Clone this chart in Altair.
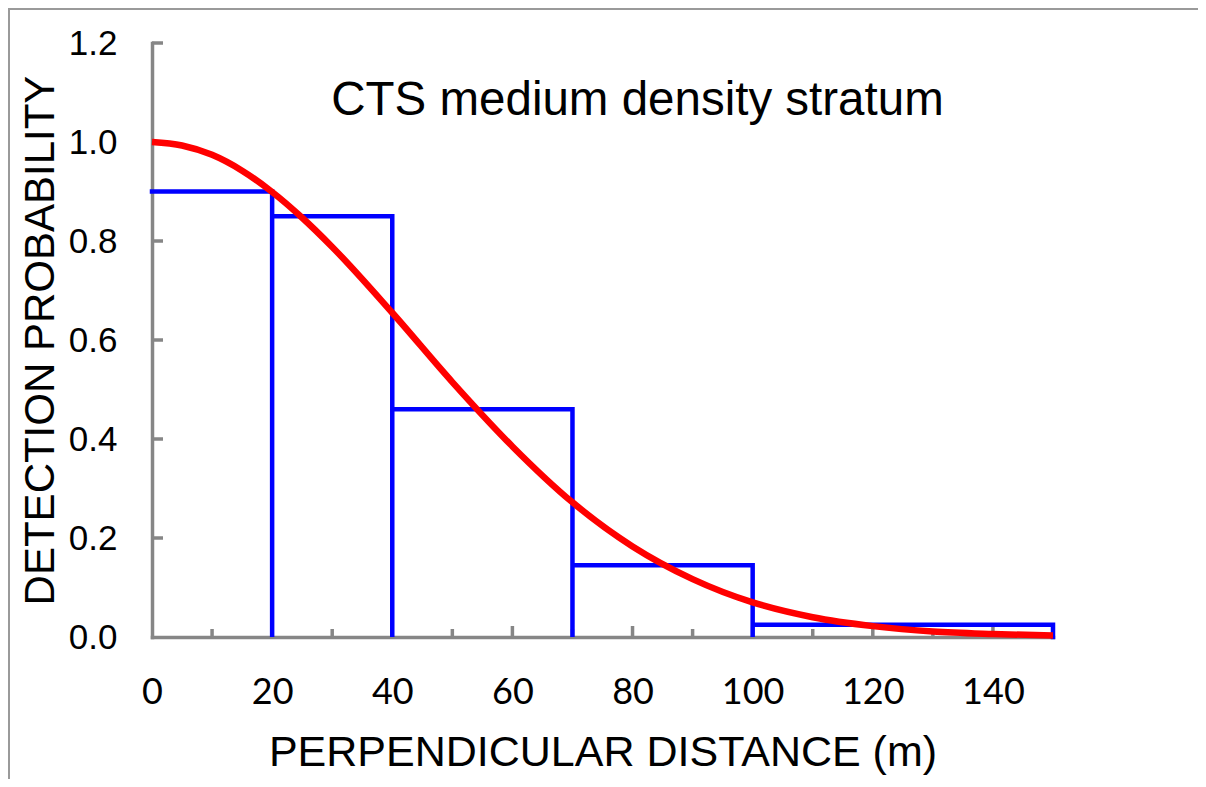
import altair as alt
import pandas as pd

# ---- data ----
bin_edges = [0, 20, 40, 70, 100, 150]
bin_heights = [0.90, 0.85, 0.46, 0.145, 0.025]

curve_x = [0, 5, 10, 15, 20, 25, 30, 40, 50, 60, 70, 80, 90, 100, 110, 120, 130, 140, 150]
curve_y = [1.0, 0.993, 0.974, 0.942, 0.899, 0.847, 0.788, 0.655, 0.515, 0.385, 0.272,
           0.183, 0.117, 0.070, 0.040, 0.022, 0.011, 0.006, 0.003]

x_labels = [0, 20, 40, 60, 80, 100, 120, 140]
x_major_ticks = [20, 40, 60, 80, 100, 120, 140]
x_minor_ticks = [10, 30, 50, 70, 90, 110, 130]
y_labels = [0.0, 0.2, 0.4, 0.6, 0.8, 1.0, 1.2]
y_ticks = [0.2, 0.4, 0.6, 0.8, 1.0, 1.2]

title_text = "CTS medium density stratum"
x_title = "PERPENDICULAR DISTANCE (m)"
y_title = "DETECTION PROBABILITY"

# ---- tables ----
hx, hy = [bin_edges[0]], [bin_heights[0]]
for i, h in enumerate(bin_heights):
    if i > 0:
        hx.append(bin_edges[i]); hy.append(h)
    hx.append(bin_edges[i + 1]); hy.append(h)
    hx.append(bin_edges[i + 1]); hy.append(0.0)
hist_df = pd.DataFrame({"x": hx, "y": hy, "o": list(range(len(hx)))})
curve_df = pd.DataFrame({"x": curve_x, "y": curve_y})

W, H = 901, 594
PAD = {"left": 144, "top": 35, "right": 145, "bottom": 142}
AXIS_GREY = "#868686"

xscale = alt.Scale(domain=[0, 150], nice=False, zero=False)
yscale = alt.Scale(domain=[0, 1.2], nice=False, zero=False)

xaxis = alt.Axis(
    values=x_labels, format="d", title=x_title,
    titleFont="Liberation Sans", titleFontSize=43, titleFontWeight="normal",
    titleColor="black", titleBaseline="alphabetic", titleAlign="center",
    titleX=W / 2, titleY=128,
    labelFont="Lato", labelFontSize=36, labelColor="black", labelPadding=38,
    labelFlush=False, labelOverlap=False,
    ticks=False, tickSize=0, grid=False,
    domainColor=AXIS_GREY, domainWidth=3.5, domainCap="square",
)
yaxis = alt.Axis(
    values=y_labels, format=".1f", title=y_title,
    titleFont="Liberation Sans", titleFontSize=42, titleFontWeight="normal",
    titleColor="black", titleBaseline="alphabetic", titleAlign="center",
    titleAngle=-90, titleX=-99, titleY=H / 2,
    labelFont="Liberation Sans", labelFontSize=35, labelColor="black",
    labelPadding=35, labelFlush=False, labelOverlap=False,
    ticks=False, tickSize=0, grid=False,
    domainColor=AXIS_GREY, domainWidth=3.5, domainCap="square",
)

one = pd.DataFrame({"a": [0]})

frame_left = alt.Chart(one).mark_rule(color="#9a9a9a", strokeWidth=2).encode(
    x=alt.value(-143), y=alt.value(-35), y2=alt.value(H + PAD["bottom"]))
frame_top = alt.Chart(one).mark_rule(color="#9a9a9a", strokeWidth=2).encode(
    y=alt.value(-34), x=alt.value(-144), x2=alt.value(W + PAD["right"]))

ytick_layer = alt.Chart(pd.DataFrame({"v": y_ticks})).mark_rule(
    color=AXIS_GREY, strokeWidth=3.5).encode(
    y=alt.Y("v:Q", scale=yscale, axis=yaxis),
    x=alt.value(0), x2=alt.value(11))

xmaj_layer = alt.Chart(pd.DataFrame({"v": x_major_ticks})).mark_rule(
    color=AXIS_GREY, strokeWidth=3.5).encode(
    x=alt.X("v:Q", scale=xscale, axis=xaxis),
    y=alt.value(H), y2=alt.value(H - 11))

xmin_layer = alt.Chart(pd.DataFrame({"v": x_minor_ticks})).mark_rule(
    color=AXIS_GREY, strokeWidth=3.5).encode(
    x=alt.X("v:Q", scale=xscale, axis=xaxis),
    y=alt.value(H), y2=alt.value(H - 8))

hist_layer = alt.Chart(hist_df).mark_line(
    color="#0000FF", strokeWidth=4.5, strokeJoin="miter", strokeCap="square").encode(
    x=alt.X("x:Q", scale=xscale, axis=xaxis),
    y=alt.Y("y:Q", scale=yscale, axis=yaxis),
    order="o:Q")

curve_layer = alt.Chart(curve_df).mark_line(
    color="#FF0000", strokeWidth=6.5, interpolate="monotone").encode(
    x=alt.X("x:Q", scale=xscale, axis=xaxis),
    y=alt.Y("y:Q", scale=yscale, axis=yaxis))

title_layer = alt.Chart(pd.DataFrame({"t": [title_text]})).mark_text(
    font="Liberation Sans", fontSize=47.5, color="black",
    align="center", baseline="alphabetic").encode(
    text="t:N", x=alt.value(485.5), y=alt.value(72))

chart = alt.layer(
    frame_left, frame_top, ytick_layer, xmaj_layer, xmin_layer,
    hist_layer, curve_layer, title_layer
).properties(
    width=W, height=H, padding=PAD,
    autosize=alt.AutoSizeParams(type="none"),
    background="white",
).configure_view(stroke=None)

chart.save("out.html", embed_options={"renderer": "svg", "actions": False})
